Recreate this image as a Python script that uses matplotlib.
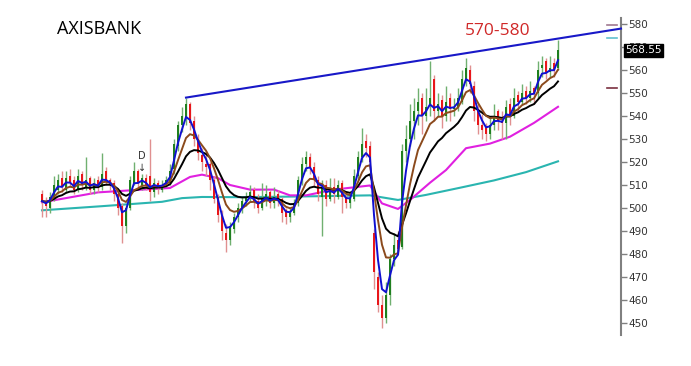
import numpy as np
import pandas as pd
import matplotlib
matplotlib.use('Agg')
import matplotlib.pyplot as plt

# daily candles
opens = [506, 503, 500, 504, 508, 513, 508, 514, 512, 508,
         515, 509, 513, 508, 512, 509, 516, 512, 511, 506,
         501, 492, 500, 511, 516, 510, 513, 514, 507, 511,
         508, 510, 511, 517, 527, 536, 539, 545, 538, 530,
         523, 519, 519, 512, 505, 497, 489, 486, 491, 496,
         500, 503, 505, 508, 503, 500, 503, 507, 502, 506,
         504, 499, 496, 498, 502, 512, 519, 522, 518, 512,
         505, 510, 504, 509, 505, 511, 505, 502, 504, 514,
         522, 529, 527, 489, 470, 458, 452, 462, 478, 486,
         483, 525, 530, 538, 542, 548, 540, 545, 556, 542,
         547, 540, 548, 543, 544, 546, 555, 560, 553, 543,
         536, 535, 532, 536, 542, 538, 537, 545, 540, 549,
         546, 551, 548, 552, 550, 561, 564, 559, 563, 561]
highs = [508, 505, 507, 514, 515, 516, 516, 517, 514, 517,
         516, 522, 514, 513, 514, 524, 518, 513, 512, 507,
         502, 501, 514, 520, 517, 515, 515, 530, 513, 512,
         512, 514, 519, 530, 538, 544, 548, 546, 540, 532,
         526, 525, 520, 514, 506, 499, 493, 494, 498, 502,
         505, 507, 510, 509, 506, 511, 510, 508, 509, 508,
         505, 500, 500, 504, 514, 522, 525, 524, 520, 514,
         512, 512, 513, 513, 512, 512, 507, 507, 517, 525,
         535, 532, 529, 491, 472, 462, 468, 480, 489, 490,
         528, 536, 545, 548, 552, 550, 552, 564, 558, 550,
         549, 553, 550, 548, 552, 560, 565, 562, 555, 545,
         541, 537, 540, 545, 543, 542, 547, 548, 552, 551,
         554, 553, 555, 553, 564, 566, 565, 566, 565, 573]
lows = [496, 496, 498, 503, 506, 507, 507, 509, 506, 507,
        508, 508, 506, 506, 507, 508, 510, 508, 503, 497,
        485, 489, 499, 510, 509, 508, 508, 503, 505, 506,
        507, 509, 510, 515, 525, 533, 536, 534, 527, 521,
        516, 514, 508, 502, 494, 486, 481, 484, 489, 494,
        498, 501, 503, 500, 498, 499, 501, 500, 500, 501,
        494, 493, 494, 497, 501, 510, 516, 515, 509, 503,
        488, 501, 503, 502, 504, 498, 500, 500, 503, 512,
        520, 522, 517, 465, 455, 448, 450, 458, 475, 480,
        482, 520, 527, 530, 536, 532, 538, 540, 538, 540,
        535, 538, 538, 540, 542, 545, 553, 550, 538, 532,
        530, 529, 530, 534, 534, 530, 530, 536, 539, 542,
        545, 545, 546, 545, 548, 557, 556, 557, 557, 560]
closes = [503, 501, 505, 510, 512, 509, 513, 511, 508, 514,
          510, 512, 508, 511, 509, 515, 512, 510, 506, 500,
          492, 500, 512, 516, 511, 513, 510, 507, 511, 509,
          510, 512, 516, 528, 536, 540, 545, 537, 530, 524,
          520, 518, 512, 504, 497, 490, 486, 492, 496, 500,
          503, 505, 507, 503, 500, 504, 506, 502, 505, 503,
          498, 496, 498, 502, 512, 519, 522, 518, 512, 506,
          509, 504, 508, 506, 510, 505, 502, 504, 514, 522,
          528, 526, 520, 472, 458, 452, 462, 478, 484, 482,
          525, 530, 538, 542, 546, 540, 544, 548, 542, 545,
          540, 546, 543, 544, 548, 556, 561, 554, 542, 536,
          534, 532, 536, 540, 538, 537, 544, 540, 548, 546,
          550, 548, 551, 550, 560, 562, 559, 561, 560, 568.55]

# slow averages, read at a few candles
teal_idx = [0, 15, 30, 35, 40, 50, 64, 82, 89, 96, 105, 113, 121, 129]
teal_val = [499, 500.8, 502.7, 504.3, 504.8, 504.7, 505, 505.5, 503.5,
            505.7, 509, 512, 515.6, 520.3]
magenta_idx = [0, 5, 14, 25, 32, 37, 40, 44, 47, 52, 58, 62, 66, 73, 82,
               85, 89, 92, 97, 101, 106, 112, 117, 123, 129]
magenta_val = [502.5, 504, 506.8, 508, 508.7, 513.5, 514.5, 513, 510, 508,
               508, 505.5, 505.5, 508, 509.8, 502, 499.6, 503.5, 511, 516.5,
               526, 528, 531, 537, 544]

trend_val = [548.0, 578.0]
yticks = list(range(450, 590, 10))
last_price = 568.55
side_marks = [579.6, 574.0, 552.2]
side_colors = ['#a07890', '#60c0d0', '#7a3040']

W, H = 691, 366
fig = plt.figure(figsize=(W / 100, H / 100), dpi=100)
ax = fig.add_axes([30 / W, 31 / H, 591 / W, 317 / H])

n = len(closes)
x = np.arange(n)
x_left, x_right = -3, 144.75
ax.set_xlim(x_left, x_right)
ax.set_ylim(444.8, 582.6)

df = pd.DataFrame({'o': opens, 'h': highs, 'l': lows, 'c': closes})
up = df['c'] >= df['o']

# moving averages
ax.plot(teal_idx, teal_val, color='#2ab5b0', lw=1.5, zorder=2)
ax.plot(magenta_idx, magenta_val, color='#e020e0', lw=1.5, zorder=2)

# candles
ax.vlines(x[up], df['l'][up], df['h'][up], color='#70b070', lw=1, zorder=3)
ax.vlines(x[~up], df['l'][~up], df['h'][~up], color='#e09090', lw=1, zorder=3)
body_lo = np.minimum(df['o'], df['c'])
body_h = np.maximum((df['c'] - df['o']).abs(), 0.4)
ax.bar(x[up], body_h[up], bottom=body_lo[up], width=0.6, color='#1f7f1f', zorder=4)
ax.bar(x[~up], body_h[~up], bottom=body_lo[~up], width=0.6, color='#e8161a', zorder=4)

ma_fast = df['c'].ewm(span=3, adjust=False).mean()
ma_mid = df['c'].ewm(span=7, adjust=False).mean()
ma_slow = df['c'].ewm(span=14, adjust=False).mean()
ax.plot(x, ma_slow, color='black', lw=1.4, zorder=5)
ax.plot(x, ma_mid, color='#8b4a1c', lw=1.4, zorder=5)
ax.plot(x, ma_fast, color='#1010d0', lw=1.4, zorder=6)

# resistance line from the first swing high to the price scale
ax.plot([36, x_right], trend_val, color='#1818c8', lw=1.5, zorder=6, clip_on=False)

for v, col in zip(side_marks, side_colors):
    ax.axhline(v, xmin=0.976, xmax=0.993, color=col, lw=1.2)

ax.text(25, 522.5, 'D', fontsize=7, color='#333333', ha='center', va='center')
ax.text(25, 517.5, '\u2193', fontsize=7, color='#333333', ha='center', va='center')

for side in ['top', 'left', 'bottom']:
    ax.spines[side].set_visible(False)
ax.spines['right'].set_color('#808080')
ax.spines['right'].set_linewidth(1.5)
ax.set_xticks([])
ax.yaxis.tick_right()
ax.set_yticks(yticks)
ax.tick_params(axis='y', direction='out', length=4, width=1, color='#808080',
               labelsize=7.5, labelcolor='#333333', pad=1)

ax.annotate(f'{last_price:.2f}', xy=(1.0, last_price), xycoords=('axes fraction', 'data'),
            xytext=(3, 0), textcoords='offset points', ha='left', va='center',
            fontsize=7.5, color='white', zorder=10,
            bbox=dict(boxstyle='square,pad=0.15', fc='black', ec='black'))

fig.text(57 / W, 1 - 29 / H, 'AXISBANK', fontsize=13, color='black',
         family='Open Sans', va='center', ha='left')
fig.text(498 / W, 1 - 31 / H, '570-580', fontsize=12.5, color='#d02828',
         family='Open Sans', va='center', ha='center')

fig.savefig('out.png', dpi=100)
